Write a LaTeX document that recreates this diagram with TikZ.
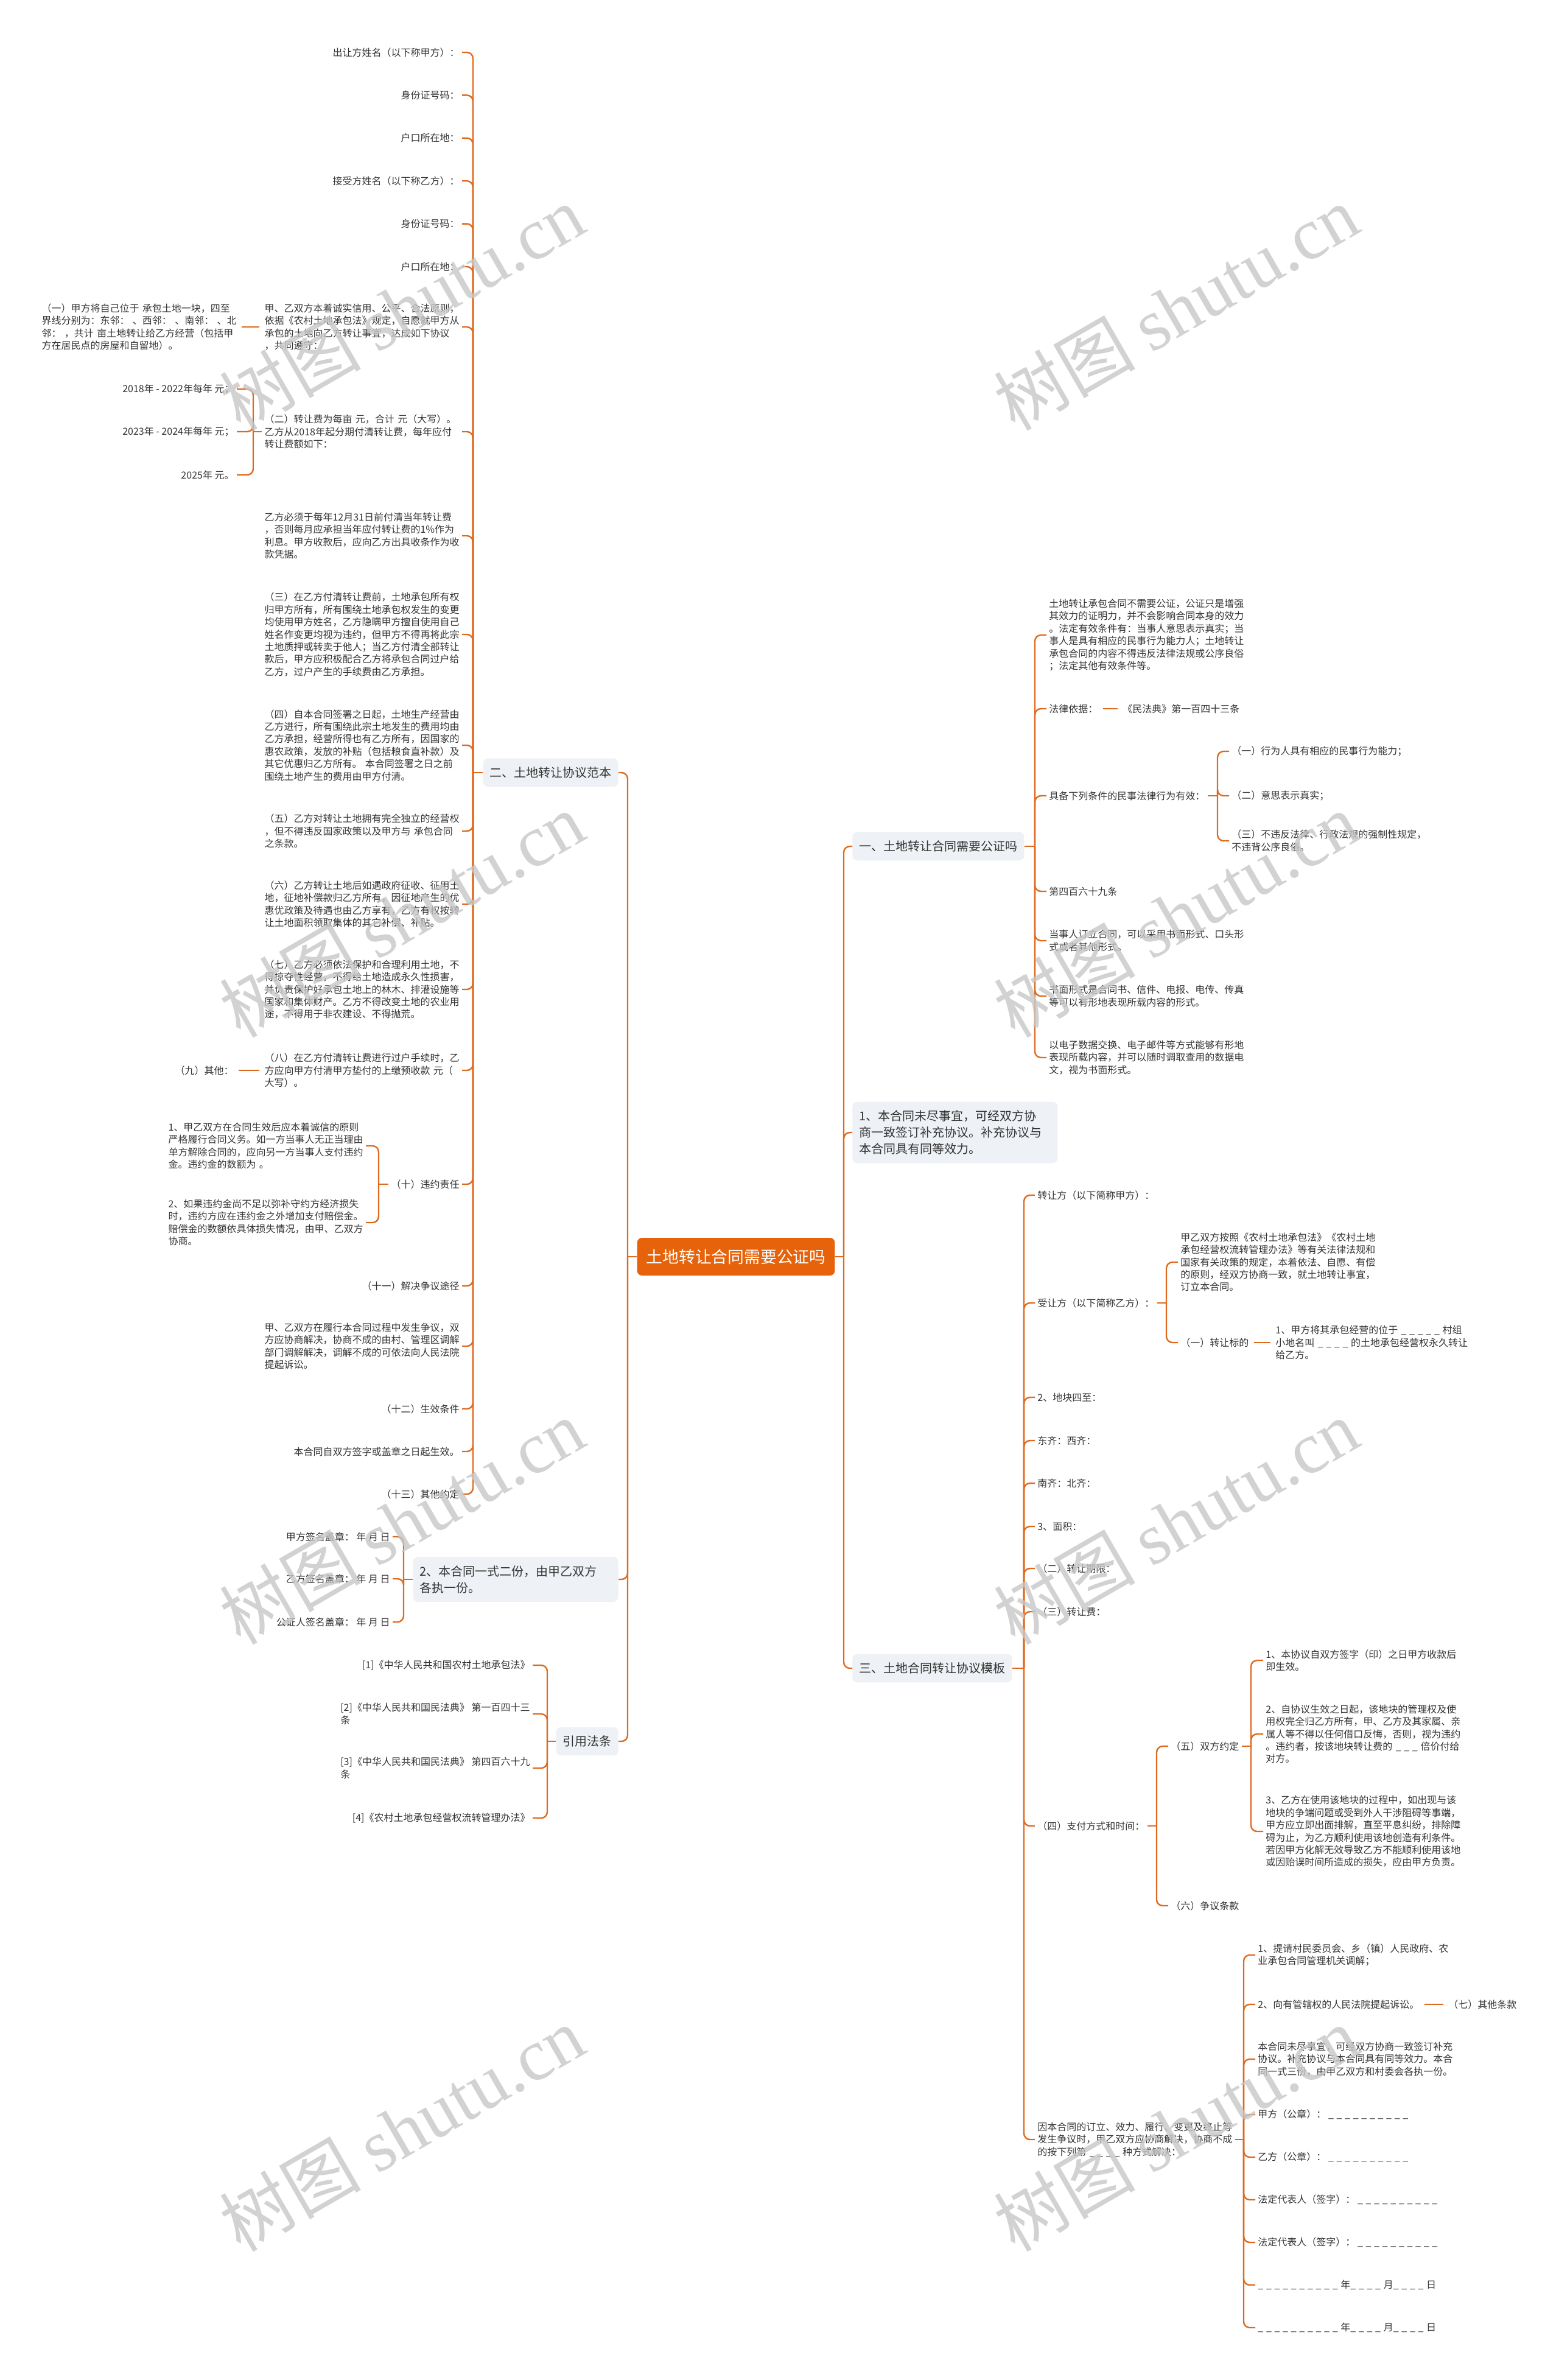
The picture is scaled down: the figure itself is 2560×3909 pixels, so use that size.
\documentclass[tikz,border=0pt]{standalone}
\usepackage{fontspec}
\setmainfont{Noto Sans CJK SC}
\newfontfamily\wmlatin{Liberation Serif}
\definecolor{mmorange}{HTML}{E7630B}
\definecolor{mmline}{HTML}{DF6A1E}
\definecolor{mmtopic}{HTML}{EEF1F5}
\definecolor{mmtext}{HTML}{333333}
% one blank of a form line
\newcommand\blank{\makebox[6.8pt][l]{\_}}

\begin{document}
\begin{tikzpicture}[
    x=0.5pt, y=-0.5pt,
    link/.style={draw=mmline, line width=1.2pt, rounded corners=5pt},
    tie/.style={link, shorten <=2pt, shorten >=2pt},
    central/.style={fill=mmorange, text=white, rounded corners=4pt, inner xsep=7.5pt,
                    minimum height=31pt, font=\fontsize{13.4}{16}\selectfont},
    topic/.style={fill=mmtopic, text=mmtext, rounded corners=4pt, inner xsep=5.5pt,
                  inner ysep=7pt, align=left, font=\fontsize{10}{13.5}\selectfont},
    topicL/.style={topic, anchor=east},
    topicR/.style={topic, anchor=west},
    leaf/.style={text=mmtext, inner sep=2pt, align=left, font=\fontsize{8}{10.2}\selectfont},
    leafL/.style={leaf, anchor=east},
    leafR/.style={leaf, anchor=west},
    para/.style={text width=160pt},
    wmark/.style={text=black!22, text opacity=0.8, rotate=30, font=\fontsize{58}{58}\selectfont},
  ]
  \fill[white] (0,0) rectangle (2560,3909);
  \useasboundingbox (0,0) rectangle (2560,3909);

  % ------------------------------------------------------------------ centre + main topics
  \node[central] (root) at (1209,2064) {土地转让合同需要公证吗};

  \node[topicL] (fanben) at (1016,1269) {二、土地转让协议范本};
  \node[topicL, text width=157.5pt] (yishi) at (1016,2594) {2、本合同一式二份，由甲乙双方\\各执一份。};
  \node[topicL] (fatiao) at (1016,2860) {引用法条};

  \node[topicR] (gongzheng) at (1400,1390) {一、土地转让合同需要公证吗};
  \node[topicR, text width=157.5pt] (buchong) at (1400,1860) {1、本合同未尽事宜，可经双方协\\商一致签订补充协议。补充协议与\\本合同具有同等效力。};
  \node[topicR] (muban) at (1400,2740) {三、土地合同转让协议模板};

  \coordinate (s-left) at (1031,2064);
  \coordinate (s-right) at (1386,2064);
  \draw[link] (root.west) -- (s-left);
  \foreach \n in {fanben,yishi,fatiao}
    \draw[link] (s-left) |- (\n.east);
  \draw[link] (root.east) -- (s-right);
  \foreach \n in {gongzheng,buchong,muban}
    \draw[link] (s-right) |- (\n.west);

  % ------------------------------------------------------------------ left: agreement sample
  \foreach \t [count=\i] in {出让方姓名（以下称甲方）：,身份证号码：,户口所在地：,
                             接受方姓名（以下称乙方）：,身份证号码：,户口所在地：}
    \node[leafL] (a\i) at (759,{86+70.4*(\i-1)}) {\t};
  \node[leafL, para] (a7) at (759,537) {甲、乙双方本着诚实信用、公平、合法原则，\\依据《农村土地承包法》规定，自愿就甲方从\\承包的土地向乙方转让事宜，达成如下协议\\，共同遵守：};
  \node[leafL, para] (a7a) at (393,537) {（一）甲方将自己位于~承包土地一块，四至\\界线分别为：东邻：~、西邻：~、南邻：~、北\\邻：~，共计~亩土地转让给乙方经营（包括甲\\方在居民点的房屋和自留地）。};
  \node[leafL, para] (a8) at (759,709) {（二）转让费为每亩~元，合计~元（大写）。\\乙方从2018年起分期付清转让费，每年应付\\转让费额如下：};
  \node[leafL] (a8a) at (389,639) {2018年 - 2022年每年 元；};
  \node[leafL] (a8b) at (389,709) {2023年 - 2024年每年 元；};
  \node[leafL] (a8c) at (389,780) {2025年 元。};
  \node[leafL, para] (a9) at (759,880) {乙方必须于每年12月31日前付清当年转让费\\，否则每月应承担当年应付转让费的1\%作为\\利息。甲方收款后，应向乙方出具收条作为收\\款凭据。};
  \node[leafL, para] (a10) at (759,1042) {（三）在乙方付清转让费前，土地承包所有权\\归甲方所有，所有围绕土地承包权发生的变更\\均使用甲方姓名，乙方隐瞒甲方擅自使用自己\\姓名作变更均视为违约，但甲方不得再将此宗\\土地质押或转卖于他人；当乙方付清全部转让\\款后，甲方应积极配合乙方将承包合同过户给\\乙方，过户产生的手续费由乙方承担。};
  \node[leafL, para] (a11) at (759,1224) {（四）自本合同签署之日起，土地生产经营由\\乙方进行，所有围绕此宗土地发生的费用均由\\乙方承担，经营所得也有乙方所有，因国家的\\惠农政策，发放的补贴（包括粮食直补款）及\\其它优惠归乙方所有。~本合同签署之日之前\\围绕土地产生的费用由甲方付清。};
  \node[leafL, para] (a12) at (759,1365) {（五）乙方对转让土地拥有完全独立的经营权\\，但不得违反国家政策以及甲方与~承包合同\\之条款。};
  \node[leafL, para] (a13) at (759,1485) {（六）乙方转让土地后如遇政府征收、征用土\\地，征地补偿款归乙方所有，因征地产生的优\\惠优政策及待遇也由乙方享有，乙方有权按转\\让土地面积领取集体的其它补偿、补贴。};
  \node[leafL, para] (a14) at (759,1625) {（七）乙方必须依法保护和合理利用土地，不\\得掠夺性经营，不得给土地造成永久性损害，\\并负责保护好承包土地上的林木、排灌设施等\\国家和集体财产。乙方不得改变土地的农业用\\途，不得用于非农建设、不得抛荒。};
  \node[leafL, para] (a15) at (759,1758) {（八）在乙方付清转让费进行过户手续时，乙\\方应向甲方付清甲方垫付的上缴预收款~元（\\大写）。};
  \node[leafL] (a15a) at (388,1758) {（九）其他：};
  \node[leafL] (a16) at (759,1945) {（十）违约责任};
  \node[leafL, para] (a16a) at (601,1882) {1、甲乙双方在合同生效后应本着诚信的原则\\严格履行合同义务。如一方当事人无正当理由\\单方解除合同的，应向另一方当事人支付违约\\金。违约金的数额为~。};
  \node[leafL, para] (a16b) at (601,2008) {2、如果违约金尚不足以弥补守约方经济损失\\时，违约方应在违约金之外增加支付赔偿金。\\赔偿金的数额依具体损失情况，由甲、乙双方\\协商。};
  \node[leafL] (a17) at (759,2112) {（十一）解决争议途径};
  \node[leafL, para] (a18) at (759,2211) {甲、乙双方在履行本合同过程中发生争议，双\\方应协商解决，协商不成的由村、管理区调解\\部门调解解决，调解不成的可依法向人民法院\\提起诉讼。};
  \node[leafL] (a19) at (759,2314) {（十二）生效条件};
  \node[leafL] (a20) at (759,2384) {本合同自双方签字或盖章之日起生效。};
  \node[leafL] (a21) at (759,2454) {（十三）其他约定};

  \coordinate (s-fanben) at (777,1269);
  \coordinate (s-zrf) at (416,709);
  \coordinate (s-wy) at (622,1945);
  \draw[link] (fanben.west) -- (s-fanben);
  \foreach \n in {1,...,21}
    \draw[link] (s-fanben) |- (a\n.east);
  \draw[tie] (a7a.east) -- (a7.west);
  \draw[link] (a8.west) -- (s-zrf);
  \foreach \n in {a,b,c}
    \draw[link] (s-zrf) |- (a8\n.east);
  \draw[tie] (a15a.east) -- (a15.west);
  \draw[link] (a16.west) -- (s-wy);
  \foreach \n in {a,b}
    \draw[link] (s-wy) |- (a16\n.east);

  % ------------------------------------------------------------------ left: copies + cited laws
  \node[leafL] (b1) at (645,2524) {甲方签名盖章： 年 月 日};
  \node[leafL] (b2) at (645,2593) {乙方签名盖章： 年 月 日};
  \node[leafL] (b3) at (645,2664) {公证人签名盖章： 年 月 日};
  \coordinate (s-yishi) at (663,2594);
  \draw[link] (yishi.west) -- (s-yishi);
  \foreach \n in {1,2,3}
    \draw[link] (s-yishi) |- (b\n.east);

  \node[leafL] (c1) at (875,2735) {[1]《中华人民共和国农村土地承包法》};
  \node[leafL] (c2) at (875,2815) {[2]《中华人民共和国民法典》 第一百四十三\\条};
  \node[leafL] (c3) at (875,2904) {[3]《中华人民共和国民法典》 第四百六十九\\条};
  \node[leafL] (c4) at (875,2986) {[4]《农村土地承包经营权流转管理办法》};
  \coordinate (s-fatiao) at (899,2860);
  \draw[link] (fatiao.west) -- (s-fatiao);
  \foreach \n in {1,...,4}
    \draw[link] (s-fatiao) |- (c\n.east);

  % ------------------------------------------------------------------ right: notarisation
  \node[leafR, para] (d1) at (1719,1043) {土地转让承包合同不需要公证，公证只是增强\\其效力的证明力，并不会影响合同本身的效力\\。法定有效条件有：当事人意思表示真实；当\\事人是具有相应的民事行为能力人；土地转让\\承包合同的内容不得违反法律法规或公序良俗\\；法定其他有效条件等。};
  \node[leafR] (d2) at (1719,1164) {法律依据：};
  \node[leafR] (d2a) at (1840,1164) {《民法典》第一百四十三条};
  \node[leafR] (d3) at (1719,1307) {具备下列条件的民事法律行为有效：};
  \node[leafR] (d3a) at (2019,1234) {（一）行为人具有相应的民事行为能力；};
  \node[leafR] (d3b) at (2019,1307) {（二）意思表示真实；};
  \node[leafR, para] (d3c) at (2019,1381) {（三）不违反法律、行政法规的强制性规定，\\不违背公序良俗。};
  \node[leafR] (d4) at (1719,1464) {第四百六十九条};
  \node[leafR, para] (d5) at (1719,1545) {当事人订立合同，可以采用书面形式、口头形\\式或者其他形式。};
  \node[leafR, para] (d6) at (1719,1636) {书面形式是合同书、信件、电报、电传、传真\\等可以有形地表现所载内容的形式。};
  \node[leafR, para] (d7) at (1719,1737) {以电子数据交换、电子邮件等方式能够有形地\\表现所载内容，并可以随时调取查用的数据电\\文，视为书面形式。};

  \coordinate (s-gz) at (1700,1390);
  \coordinate (s-jb) at (2000,1307);
  \draw[link] (gongzheng.east) -- (s-gz);
  \foreach \n in {1,...,7}
    \draw[link] (s-gz) |- (d\n.west);
  \draw[tie] (d2.east) -- (d2a.west);
  \draw[link] (d3.east) -- (s-jb);
  \foreach \n in {a,b,c}
    \draw[link] (s-jb) |- (d3\n.west);

  % ------------------------------------------------------------------ right: template
  \node[leafR] (e1) at (1700,1963) {转让方（以下简称甲方）：};
  \node[leafR] (e2) at (1700,2140) {受让方（以下简称乙方）：};
  \node[leafR, para] (e2a) at (1935,2073) {甲乙双方按照《农村土地承包法》《农村土地\\承包经营权流转管理办法》等有关法律法规和\\国家有关政策的规定，本着依法、自愿、有偿\\的原则，经双方协商一致，就土地转让事宜，\\订立本合同。};
  \node[leafR] (e2b) at (1935,2205) {（一）转让标的};
  \node[leafR, para] (e2b1) at (2091,2205) {1、甲方将其承包经营的位于~\blank\blank\blank\blank\blank 村组\\小地名叫~\blank\blank\blank\blank 的土地承包经营权永久转让\\给乙方。};
  \node[leafR] (e3) at (1700,2295) {2、地块四至：};
  \node[leafR] (e4) at (1700,2366) {东齐：西齐：};
  \node[leafR] (e5) at (1700,2436) {南齐：北齐：};
  \node[leafR] (e6) at (1700,2507) {3、面积：};
  \node[leafR] (e7) at (1700,2576) {（二）转让期限：};
  \node[leafR] (e8) at (1700,2647) {（三）转让费：};
  \node[leafR] (e9) at (1700,2999) {（四）支付方式和时间：};
  \node[leafR] (e9a) at (1919,2868) {（五）双方约定};
  \node[leafR, para] (e9a1) at (2075,2727) {1、本协议自双方签字（印）之日甲方收款后\\即生效。};
  \node[leafR, para] (e9a2) at (2075,2848) {2、自协议生效之日起，该地块的管理权及使\\用权完全归乙方所有，甲、乙方及其家属、亲\\属人等不得以任何借口反悔，否则，视为违约\\。违约者，按该地块转让费的~\blank\blank\blank 倍价付给\\对方。};
  \node[leafR, para] (e9a3) at (2075,3008) {3、乙方在使用该地块的过程中，如出现与该\\地块的争端问题或受到外人干涉阻碍等事端，\\甲方应立即出面排解，直至平息纠纷，排除障\\碍为止，为乙方顺利使用该地创造有利条件。\\若因甲方化解无效导致乙方不能顺利使用该地\\或因贻误时间所造成的损失，应由甲方负责。};
  \node[leafR] (e9b) at (1919,3130) {（六）争议条款};
  \node[leafR, para] (e10) at (1700,3514) {因本合同的订立、效力、履行、变更及终止等\\发生争议时，甲乙双方应协商解决，协商不成\\的按下列第~\blank\blank\blank\blank 种方式解决：};
  \node[leafR, para] (e10a) at (2062,3211) {1、提请村民委员会、乡（镇）人民政府、农\\业承包合同管理机关调解；};
  \node[leafR] (e10b) at (2062,3292) {2、向有管辖权的人民法院提起诉讼。};
  \node[leafR] (e10b1) at (2375,3292) {（七）其他条款};
  \node[leafR, para] (e10c) at (2062,3382) {本合同未尽事宜，可经双方协商一致签订补充\\协议。补充协议与本合同具有同等效力。本合\\同一式三份，由甲乙双方和村委会各执一份。};
  \node[leafR] (e10d) at (2062,3473) {甲方（公章）： \blank\blank\blank\blank\blank\blank\blank\blank\blank\blank};
  \node[leafR] (e10e) at (2062,3543) {乙方（公章）： \blank\blank\blank\blank\blank\blank\blank\blank\blank\blank};
  \node[leafR] (e10f) at (2062,3613) {法定代表人（签字）： \blank\blank\blank\blank\blank\blank\blank\blank\blank\blank};
  \node[leafR] (e10g) at (2062,3683) {法定代表人（签字）： \blank\blank\blank\blank\blank\blank\blank\blank\blank\blank};
  \node[leafR] (e10h) at (2062,3753) {\blank\blank\blank\blank\blank\blank\blank\blank\blank\blank 年\blank\blank\blank\blank 月\blank\blank\blank\blank 日};
  \node[leafR] (e10i) at (2062,3823) {\blank\blank\blank\blank\blank\blank\blank\blank\blank\blank 年\blank\blank\blank\blank 月\blank\blank\blank\blank 日};

  \coordinate (s-mb) at (1682,2740);
  \coordinate (s-sr) at (1916,2140);
  \coordinate (s-zf) at (1900,2999);
  \coordinate (s-yd) at (2055,2868);
  \coordinate (s-zy) at (2043,3514);
  \draw[link] (muban.east) -- (s-mb);
  \foreach \n in {1,...,10}
    \draw[link] (s-mb) |- (e\n.west);
  \draw[link] (e2.east) -- (s-sr);
  \foreach \n in {a,b}
    \draw[link] (s-sr) |- (e2\n.west);
  \draw[tie] (e2b.east) -- (e2b1.west);
  \draw[link] (e9.east) -- (s-zf);
  \foreach \n in {a,b}
    \draw[link] (s-zf) |- (e9\n.west);
  \draw[link] (e9a.east) -- (s-yd);
  \foreach \n in {1,2,3}
    \draw[link] (s-yd) |- (e9a\n.west);
  \draw[link] (e10.east) -- (s-zy);
  \foreach \n in {a,...,i}
    \draw[link] (s-zy) |- (e10\n.west);
  \draw[tie] (e10b.east) -- (e10b1.west);

  % ------------------------------------------------------------------ watermark
  \foreach \y in {506,1503,2500,3497}
    \foreach \x in {660,1932}
      \node[wmark] (wm-\x-\y) at (\x,\y) {树图 {\wmlatin\fontsize{60}{60}\selectfont shutu.cn}};

\end{tikzpicture}
\end{document}
